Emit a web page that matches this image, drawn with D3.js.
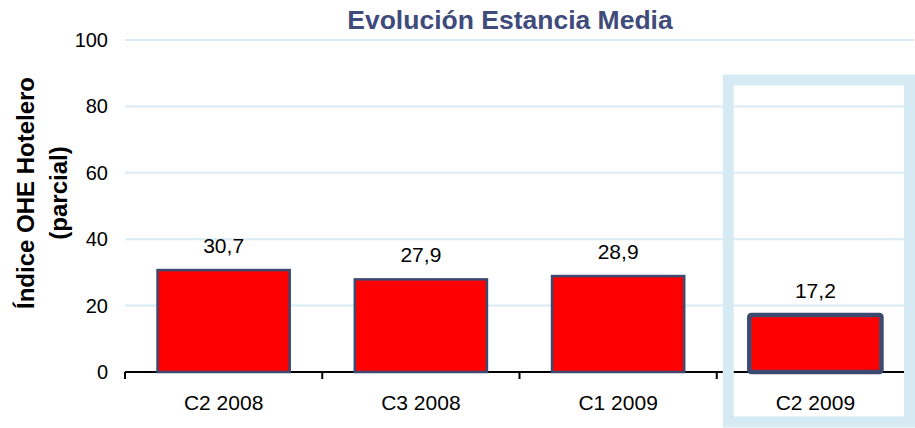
<!DOCTYPE html>
<html>
<head>
<meta charset="utf-8">
<script src="https://cdn.jsdelivr.net/npm/d3@7"></script>
<style>
  body { margin: 0; background: #fff; }
  text { font-family: "Liberation Sans", Arial, sans-serif; }
</style>
</head>
<body>
<div id="chart"></div>
<script>
// data
var categories = ["C2 2008", "C3 2008", "C1 2009", "C2 2009"];
var values = [30.7, 27.9, 28.9, 17.2];
var yTicks = [0, 20, 40, 60, 80, 100];
var highlighted = "C2 2009";

var width = 915, height = 428;
var margin = {top: 40, right: 1, bottom: 56, left: 125};

var svg = d3.select("#chart")
  .append("svg")
    .attr("width", width)
    .attr("height", height);

// scales
var x = d3.scaleBand()
  .domain(categories)
  .range([margin.left, width - margin.right])
  .paddingInner(0.33)
  .paddingOuter(0.165);

var y = d3.scaleLinear()
  .domain([0, 100])
  .range([height - margin.bottom, margin.top]);

// comma as decimal separator
var es = d3.formatLocale({decimal: ",", thousands: ".", grouping: [3], currency: ["", " €"]});
var fmt = es.format(".1f");

// gridlines
svg.append("g")
  .selectAll("line")
  .data(yTicks.filter(function(d) { return d > 0; }))
  .enter()
  .append("line")
    .attr("x1", margin.left)
    .attr("x2", width - margin.right)
    .attr("y1", function(d) { return y(d); })
    .attr("y2", function(d) { return y(d); })
    .style("stroke", "#d9ecf5")
    .style("stroke-width", 2);

// y tick labels
svg.append("g")
  .selectAll("text")
  .data(yTicks)
  .enter()
  .append("text")
    .attr("x", margin.left - 17)
    .attr("y", function(d) { return y(d); })
    .attr("dy", "0.35em")
    .attr("text-anchor", "end")
    .style("font-size", "20px")
    .style("fill", "#000")
    .text(function(d) { return d; });

// x axis line + ticks at band boundaries
var bounds = categories.map(function(c) { return x(c) - x.step() * x.paddingInner() / 2; });
bounds.push(width - margin.right);
svg.append("line")
  .attr("x1", margin.left)
  .attr("x2", width - margin.right)
  .attr("y1", y(0))
  .attr("y2", y(0))
  .style("stroke", "#000")
  .style("stroke-width", 2);
svg.append("g")
  .selectAll("line")
  .data(bounds)
  .enter()
  .append("line")
    .attr("x1", function(d) { return d; })
    .attr("x2", function(d) { return d; })
    .attr("y1", y(0))
    .attr("y2", y(0) + 7)
    .style("stroke", "#000")
    .style("stroke-width", 2);

// highlight box around last category
var hx = x(highlighted) - x.step() * x.paddingInner() / 2;
svg.append("rect")
  .attr("x", hx + 11.5)
  .attr("y", 80)
  .attr("width", width - 5.5 - (hx + 11.5))
  .attr("height", 342)
  .style("fill", "none")
  .style("stroke", "#d6eaf3")
  .style("stroke-width", 11);

// bars
svg.append("g")
  .selectAll("rect")
  .data(values)
  .enter()
  .append("rect")
    .attr("x", function(d, i) { return x(categories[i]); })
    .attr("y", function(d) { return y(d); })
    .attr("width", x.bandwidth())
    .attr("height", function(d) { return y(0) - y(d); })
    .attr("rx", function(d, i) { return categories[i] == highlighted ? 2 : 0; })
    .style("fill", "#ff0000")
    .style("stroke", "#3c4a72")
    .style("stroke-width", function(d, i) { return categories[i] == highlighted ? 4.5 : 2.5; });

// value labels
svg.append("g")
  .selectAll("text")
  .data(values)
  .enter()
  .append("text")
    .attr("x", function(d, i) { return x(categories[i]) + x.bandwidth() / 2; })
    .attr("y", function(d) { return y(d) - 17; })
    .attr("text-anchor", "middle")
    .style("font-size", "21px")
    .text(function(d) { return fmt(d); });

// category labels
svg.append("g")
  .selectAll("text")
  .data(categories)
  .enter()
  .append("text")
    .attr("x", function(d) { return x(d) + x.bandwidth() / 2; })
    .attr("y", 410)
    .attr("text-anchor", "middle")
    .style("font-size", "21px")
    .text(function(d) { return d; });

// title
svg.append("text")
  .attr("x", 510)
  .attr("y", 29)
  .attr("text-anchor", "middle")
  .style("font-size", "26.5px")
  .style("font-weight", "bold")
  .style("fill", "#3f4b7a")
  .text("Evolución Estancia Media");

// y axis title (two lines)
var yTitle = svg.append("text")
  .attr("transform", "translate(0," + 193 + ") rotate(-90)")
  .attr("text-anchor", "middle")
  .style("font-size", "24px")
  .style("font-weight", "bold")
  .style("fill", "#000");
yTitle.append("tspan").attr("x", 0).attr("y", 34).text("Índice OHE Hotelero");
yTitle.append("tspan").attr("x", 0).attr("y", 67).text("(parcial)");
</script>
</body>
</html>
